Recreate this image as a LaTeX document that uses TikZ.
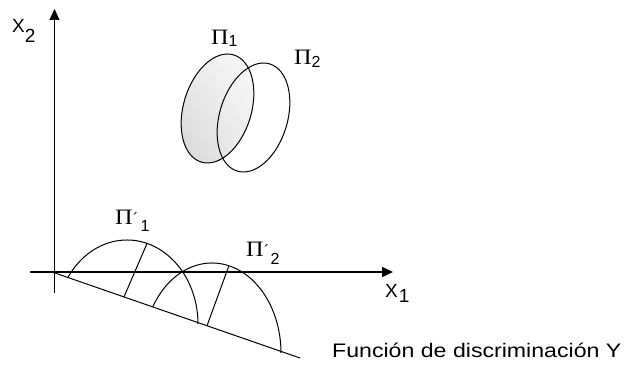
\documentclass[tikz,border=0pt]{standalone}
\usepackage{fontspec}
\usepackage{graphicx}
\setmainfont{Liberation Sans}
\newfontfamily\capfont[FakeStretch=1.18]{Liberation Sans}
\newfontfamily\pifont[FakeStretch=1.1]{Liberation Serif}
\usetikzlibrary{arrows.meta,calc,shadings}
\begin{document}
\begin{tikzpicture}[x=1pt,y=-1pt,
  axis/.style={line width=1.3pt, -{Triangle[length=11pt,width=10pt]}},
  thinline/.style={line width=1pt},
  lbl/.style={inner sep=0pt, anchor=base west, font=\fontsize{16}{16}\selectfont},
  xlbl/.style={inner sep=0pt, anchor=base west, font=\fontsize{19}{19}\selectfont}]
\useasboundingbox (0,0) rectangle (625,366);
% axes
\coordinate (xs) at (30,272);
\coordinate (xe) at (393,272);
\coordinate (ys) at (54.5,293);
\coordinate (ye) at (54.5,9);
\draw[axis] (xs) -- (xe);
\draw[axis] (ys) -- (ye);
% discriminant line
\coordinate (L1) at (55,273);
\coordinate (L2) at (300,358);
\draw[thinline] (L1) -- (L2);
% projected distributions
\coordinate (c1) at (127,324);
\coordinate (c2) at (212,353);
\coordinate (a1s) at ($(c1)+(-146:71 and 84)$);
\coordinate (a2s) at ($(c2)+(-149:69 and 90)$);
\draw[thinline] (a1s) arc[start angle=-146, end angle=0, x radius=71, y radius=84];
\draw[thinline] (a2s) arc[start angle=-149, end angle=0, x radius=69, y radius=90];
\coordinate (h1t) at ($(c1)+(-73.6:71 and 84)$);
\coordinate (h1b) at ($(L1)!0.2816!(L2)$);
\coordinate (h2t) at ($(c2)+(-75.8:69 and 90)$);
\coordinate (h2b) at ($(L1)!0.6204!(L2)$);
\draw[thinline] (h1b) -- (h1t);
\draw[thinline] (h2b) -- (h2t);
% ellipses
\coordinate (e1) at (217.5,108.5);
\coordinate (e2) at (253.5,117.5);
\begin{scope}
\clip[rotate around={-16.8:(e1)}] (e1) ellipse[x radius=34, y radius=56];
\shade[lower left=gray!34, upper right=gray!3, upper left=gray!16, lower right=gray!13] (175,50) rectangle (260,168);
\end{scope}
\draw[thinline, rotate around={-16.8:(e1)}] (e1) ellipse[x radius=34, y radius=56];
\draw[thinline, rotate around={-16.8:(e2)}] (e2) ellipse[x radius=34, y radius=56];
% labels
\node[xlbl] (x2lab) at (12,33) {X\raisebox{-10pt}{2}};
\node[xlbl] (x1lab) at (385,298) {X\kern1pt\raisebox{-5pt}{1}};
\node[lbl] (p1) at (211,45) {{\pifont\fontsize{22}{22}\selectfont Π}\raisebox{-2pt}{1}};
\node[lbl] (p2) at (294,65) {{\pifont\fontsize{22}{22}\selectfont Π}\raisebox{-3pt}{2}};
\node[lbl] (pp1) at (115,225) {{\pifont\fontsize{22}{22}\selectfont Π}\kern0.5pt´\kern2pt\raisebox{-7pt}{1}};
\node[lbl] (pp2) at (246,257) {{\pifont\fontsize{22}{22}\selectfont Π}\kern0.5pt´\kern1pt\raisebox{-8pt}{2}};
\node[inner sep=0pt, anchor=base west, font=\capfont\fontsize{19.6}{20}\selectfont] (fn) at (332,358) {Función de discriminación Y};
\end{tikzpicture}
\end{document}
